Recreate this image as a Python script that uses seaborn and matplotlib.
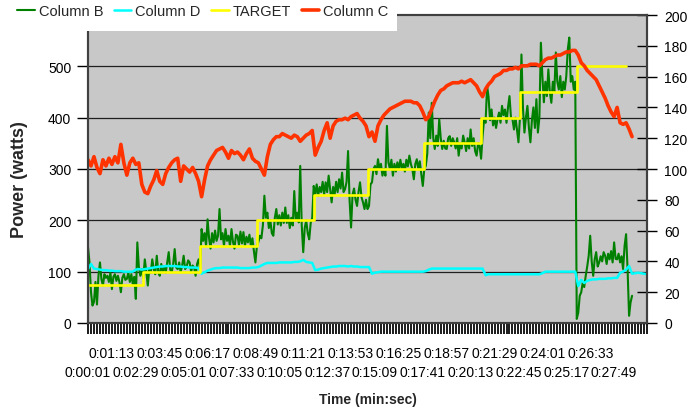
import numpy as np
import pandas as pd
import matplotlib
matplotlib.use("Agg")
import matplotlib.pyplot as plt
import seaborn as sns
from matplotlib.patches import Rectangle

nan = np.nan

# Column B - power (watts), left axis; two readings per category step
green_b = [
    148, 118, 60, 34, 41, 80, 36, 92, 118, 85, 73, 95, 88, 92, 80, 98, 66, 90, 95, 82,                 # 0
    92, 80, 60, 88, 95, 84, 86, 98, 80, 95, 75, 90, 47, 157, 110, 92, 105, 88, 124, 100,              # 10
    73, 105, 98, 124, 105, 95, 131, 100, 92, 115, 100, 111, 98, 118, 138, 104, 99, 115, 144, 108,     # 20
    105, 118, 99, 112, 131, 105, 110, 122, 118, 100, 112, 108, 92, 115, 124, 105, 183, 160, 175, 150,  # 30
    202, 165, 145, 175, 157, 180, 160, 170, 222, 163, 175, 150, 183, 160, 170, 150, 183, 158, 145, 172,  # 40
    170, 152, 178, 155, 177, 150, 168, 157, 172, 150, 165, 140, 118, 150, 158, 170, 165, 190, 248, 205,  # 50
    215, 185, 200, 175, 170, 205, 222, 192, 210, 190, 215, 195, 225, 195, 210, 185, 205, 190, 257, 200,  # 60
    215, 196, 306, 190, 138, 185, 200, 175, 163, 195, 205, 267, 250, 270, 248, 265, 255, 275, 250, 274,  # 70
    255, 287, 260, 235, 265, 250, 275, 255, 280, 262, 293, 255, 261, 275, 335, 240, 186, 250, 262, 240,  # 80
    228, 255, 274, 245, 235, 222, 240, 222, 228, 270, 274, 300, 306, 290, 319, 300, 310, 287, 300, 287,  # 90
    384, 313, 300, 318, 287, 310, 295, 313, 300, 318, 300, 310, 295, 318, 305, 326, 310, 300, 280, 310,  # 100
    319, 300, 315, 290, 267, 300, 306, 330, 410, 360, 429, 360, 339, 365, 345, 397, 360, 339, 355, 340,  # 110
    339, 360, 364, 345, 360, 352, 340, 360, 326, 350, 340, 365, 352, 335, 360, 340, 377, 345, 360, 335,  # 120
    326, 350, 345, 320, 364, 397, 390, 462, 440, 395, 416, 385, 400, 380, 397, 410, 390, 423, 405, 416,  # 130
    390, 420, 442, 400, 397, 377, 400, 377, 352, 400, 523, 420, 371, 400, 423, 380, 352, 395, 420, 380,  # 140
    436, 371, 400, 546, 481, 430, 470, 442, 494, 450, 429, 470, 450, 527, 470, 455, 481, 440, 470, 455,  # 150
    481, 533, 556, 470, 481, 455, 470, 8, 20, 53, 60, 79, 70, 92, 110, 131, 170, 120, 92, 124,          # 160
    138, 110, 118, 130, 120, 138, 131, 115, 135, 124, 140, 118, 157, 125, 124, 135, 118, 130, 105, 150,  # 170
    173, 105, 14, 40, 53,                                                                               # 180
]

# Column D, left axis
cyan_d = [
    105, 115, 106, 105, 104, 103, 103, 102, 102, 101,  # 0
    101, 101, 100, 100, 100, 100, 104, 105, 104, 105,  # 10
    106, 107, 108, 109, 110, 110, 111, 111, 111, 111,  # 20
    110, 110, 109, 109, 108, 108, 108, 107, 96, 99,    # 30
    102, 104, 106, 107, 107, 108, 108, 108, 108, 108,  # 40
    108, 107, 107, 107, 107, 108, 108, 109, 112, 115,  # 50
    117, 117, 117, 117, 118, 118, 118, 118, 118, 119,  # 60
    119, 120, 123, 119, 118, 117, 103, 104, 106, 107,  # 70
    108, 109, 110, 110, 111, 111, 111, 110, 111, 110,  # 80
    110, 109, 109, 109, 109, 96, 98, 99, 100, 100,     # 90
    100, 100, 100, 100, 100, 100, 100, 100, 100, 100,  # 100
    100, 100, 100, 101, 104, 106, 106, 106, 106, 106,  # 110
    106, 106, 106, 106, 106, 106, 106, 106, 106, 106,  # 120
    106, 106, 106, 93, 95, 95, 95, 95, 95, 95,         # 130
    95, 95, 95, 95, 95, 95, 95, 95, 95, 95,            # 140
    95, 95, 97, 100, 100, 100, 100, 100, 100, 100,     # 150
    100, 100, 100, 100, 72, 84, 78, 82, 84, 85,        # 160
    85, 86, 86, 86, 87, 87, 88, 88, 98, 100,           # 170
    104, 111, 96, 97, 98, 97, 96, 95,                  # 180
]

# TARGET, left axis
target = ([75] * 19 + [100] * 19 + [150] * 19 + [200] * 19 + [250] * 18
          + [300] * 19 + [350] * 19 + [400] * 13 + [450] * 19 + [500] * 17
          + [nan] * 7)

# Column C - right axis
red_c = [
    106, 102, 108, 101, 97, 106, 102, 107, 103, 108,  # 0
    104, 116, 104, 96, 104, 107, 103, 104, 90, 85,    # 10
    84, 89, 93, 99, 92, 90, 97, 101, 104, 106,        # 20
    107, 92, 102, 100, 98, 101, 97, 92, 82, 93,       # 30
    102, 106, 109, 112, 113, 114, 111, 107, 112, 110,  # 40
    111, 109, 106, 110, 113, 107, 105, 104, 100, 96,   # 50
    108, 116, 119, 121, 121, 123, 122, 121, 120, 122,  # 60
    121, 118, 120, 122, 123, 125, 109, 114, 118, 125,  # 70
    130, 120, 128, 131, 132, 132, 133, 132, 134, 135,  # 80
    136, 133, 131, 128, 121, 124, 118, 128, 132, 135,  # 90
    137, 139, 140, 141, 142, 143, 144, 144, 144, 143,  # 100
    143, 141, 137, 132, 134, 139, 144, 148, 151, 152,  # 110
    154, 155, 156, 156, 156, 157, 156, 157, 158, 156,  # 120
    154, 150, 147, 152, 155, 157, 160, 161, 162, 164,  # 130
    164, 165, 165, 166, 165, 167, 167, 167, 168, 168,  # 140
    168, 167, 169, 171, 172, 172, 173, 174, 174, 175,  # 150
    176, 176, 177, 177, 174, 169, 167, 164, 162, 160,  # 160
    158, 154, 150, 146, 141, 137, 134, 140, 130, 129,  # 170
    130, 126, 121, nan, nan, nan, nan, nan,            # 180
]

time_labels = ["0:00:01", "0:01:13", "0:02:29", "0:03:45", "0:05:01", "0:06:17",
               "0:07:33", "0:08:49", "0:10:05", "0:11:21", "0:12:37", "0:13:53",
               "0:15:09", "0:16:25", "0:17:41", "0:18:57", "0:20:13", "0:21:29",
               "0:22:45", "0:24:01", "0:25:17", "0:26:33", "0:27:49"]
label_every = 8

sns.set_style("white")
plt.rcParams["font.family"] = ["Liberation Sans", "DejaVu Sans"]

n = len(cyan_d)
df = pd.DataFrame({"idx": np.arange(n), "Column D": cyan_d,
                   "TARGET": target, "Column C": red_c})
# Column B was read at half-category resolution
df_b = pd.DataFrame({"idx": np.arange(len(green_b)) / 2, "Column B": green_b})

fig = plt.figure(figsize=(6.99, 4.10), dpi=100)
ax = fig.add_axes([88 / 699, 86 / 410, 559 / 699, 308 / 410])
ax.set_facecolor("#c8c8c8")
ax.set_axisbelow(True)

sns.lineplot(data=df_b, x="idx", y="Column B", ax=ax, color="#008000", lw=1.5,
             estimator=None, label="Column B", legend=False)
sns.lineplot(data=df, x="idx", y="Column D", ax=ax, color="#00ffff", lw=1.8,
             estimator=None, label="Column D", legend=False)
sns.lineplot(data=df, x="idx", y="TARGET", ax=ax, color="#ffff00", lw=1.9,
             estimator=None, label="TARGET", legend=False, drawstyle="steps-mid")

ax2 = ax.twinx()
sns.lineplot(data=df, x="idx", y="Column C", ax=ax2, color="#ff3300", lw=2.6,
             estimator=None, label="Column C", legend=False)

# left axis
ax.set_ylim(0, 600)
ax.set_yticks(range(0, 600, 100))
ax.tick_params(axis="y", left=True, direction="out", length=8, width=1, pad=4,
               labelsize=10, colors="black")
ax.yaxis.grid(True, color="#202020", lw=0.9)
ax.xaxis.grid(False)

# category axis with staggered labels
ax.set_xlim(0, n - 1)
ax.set_xticks(np.arange(n))
xlabels = [""] * n
for k, t in enumerate(time_labels):
    xlabels[k * label_every] = t if k % 2 else "\n" + t
ax.set_xticklabels(xlabels)
ax.tick_params(axis="x", bottom=True, direction="out", length=8, width=1.4,
               pad=8.5, labelsize=10, color="#1a1a1a", labelcolor="black")
for lbl in ax.get_xticklabels():
    lbl.set_linespacing(1.45)

# right axis
ax2.set_ylim(0, 200)
ax2.set_yticks(range(0, 201, 20))
ax2.tick_params(axis="y", right=True, direction="inout", length=15, width=1,
                pad=5, labelsize=10, colors="black")

for a in (ax, ax2):
    a.set_xlabel("")
    a.set_ylabel("")
    for s in a.spines.values():
        s.set_color("#404040")
        s.set_linewidth(1.5)

fig.text(367.5 / 699, 1 - 400 / 410, "Time (min:sec)", ha="center", va="center",
         fontsize=10, fontweight="bold")
fig.text(20 / 699, 1 - 180 / 410, "Power (watts)", rotation=90, ha="center",
         va="center", fontsize=13, fontweight="bold")

# white legend box over the top of the plot area
fig.add_artist(Rectangle((0, 1 - 32 / 410), 397 / 699, 32 / 410,
                         transform=fig.transFigure, facecolor="white",
                         edgecolor="none", zorder=2))
handles = ax.get_lines()[:3] + ax2.get_lines()[:1]
fig.legend(handles, [h.get_label() for h in handles], loc="upper left",
           bbox_to_anchor=(17 / 699, 1 - 5 / 410), ncol=4, frameon=False,
           fontsize=10.5, handlelength=1.2, handletextpad=0.3,
           columnspacing=0.7, borderpad=0, borderaxespad=0)

fig.savefig("out.png", dpi=100)
